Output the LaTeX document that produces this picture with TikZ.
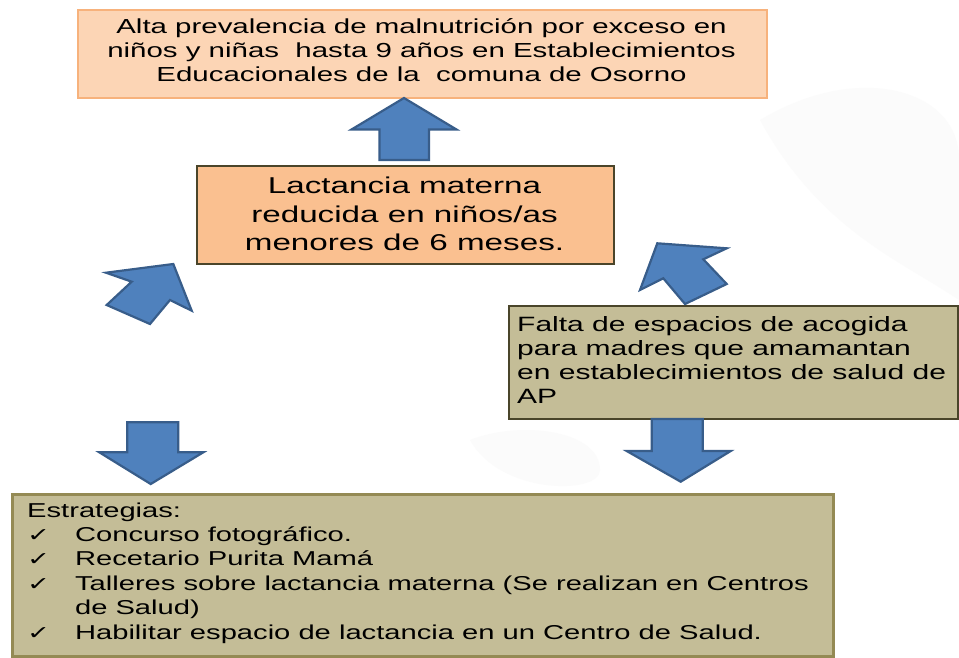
\documentclass[tikz,border=0pt]{standalone}
\usepackage{fontspec}
\setmainfont{Liberation Sans}
\newfontfamily\symfont{DejaVu Sans}
\usepackage{graphicx}
\definecolor{topfill}{HTML}{FCD5B5}
\definecolor{topdraw}{HTML}{F7B27C}
\definecolor{midfill}{HTML}{FAC090}
\definecolor{darkolive}{HTML}{4A452A}
\definecolor{khaki}{HTML}{C4BD97}
\definecolor{olive}{HTML}{948A54}
\definecolor{arrowfill}{HTML}{4F81BD}
\definecolor{arrowdraw}{HTML}{385D8A}
\newcommand{\chk}{\makebox[33pt][l]{{\symfont\fontsize{19}{19}\selectfont ✓}}}
\newcommand{\clines}[2]{\vbox{#1\lineskiplimit=-100pt\lineskip=0pt\halign{\hfil##\hfil\cr#2\crcr}}}
\newcommand{\llines}[2]{\vbox{#1\lineskiplimit=-100pt\lineskip=0pt\halign{##\hfil\cr#2\crcr}}}
\tikzset{
  box/.style={rectangle, inner sep=0pt, anchor=north west},
  blockarrow/.style={fill=arrowfill, draw=arrowdraw, line width=2.2pt, line join=miter},
  txt/.style={inner sep=0pt}
}
\begin{document}
\begin{tikzpicture}[x=1pt,y=-1pt]
\useasboundingbox[fill=white] (0,0) rectangle (959,657);
% faint background watermark
\fill[gray!3] (760,120) .. controls (860,60) and (960,90) .. (959,160) -- (959,300) .. controls (900,260) and (820,230) .. (760,120);
\fill[gray!3] (470,440) .. controls (520,420) and (600,430) .. (600,470) .. controls (600,495) and (500,495) .. (470,440);
% boxes
\node[box, fill=topfill, draw=topdraw, line width=1.5pt, minimum width=689pt, minimum height=88pt] (top) at (77,9) {};
\node[txt, anchor=base] (toptext) at (421.5,81.7) {\scalebox{1.45}[1]{\clines{\fontsize{20.3}{24.2}\selectfont}{Alta prevalencia de malnutrición por exceso en\cr niños y niñas\ \ hasta 9 años en Establecimientos\cr Educacionales de la\ \ comuna de Osorno}}};
\node[box, fill=midfill, draw=darkolive, line width=2.2pt, minimum width=417pt, minimum height=98pt] (mid) at (196,165) {};
\node[txt, anchor=base] (midtext) at (404.5,250.5) {\scalebox{1.45}[1]{\clines{\fontsize{22.9}{28.5}\selectfont}{Lactancia materna\cr reducida en niños/as\cr menores de 6 meses.}}};
\node[box, fill=khaki, draw=darkolive, line width=2pt, minimum width=449pt, minimum height=113pt] (falta) at (508,305) {};
\node[txt, anchor=base west] (faltatext) at (517,403) {\scalebox{1.45}[1]{\llines{\fontsize{20.7}{23.7}\selectfont}{Falta de espacios de acogida\cr para madres que amamantan\cr en establecimientos de salud de\cr AP}}};
\node[box, fill=khaki, draw=olive, line width=2.8pt, minimum width=821pt, minimum height=162pt] (strat) at (11,493) {};
\node[txt, anchor=base west] (strattext) at (27,639) {\scalebox{1.45}[1]{\llines{\fontsize{20.1}{24.4}\selectfont}{Estrategias:\cr \chk Concurso fotográfico.\cr \chk Recetario Purita Mamá\cr \chk Talleres sobre lactancia materna (Se realizan en Centros\cr \makebox[33pt]{}de Salud)\cr \chk Habilitar espacio de lactancia en un Centro de Salud.}}};
% block arrows
\draw[blockarrow] (404,98) -- (456.5,129.5) -- (429,129.5) -- (429,160) -- (379.5,160) -- (379.5,129.5) -- (351.5,129.5) -- cycle;
\draw[blockarrow] (173.3,264) -- (191.7,310.7) -- (170,300) -- (150,324) -- (106.7,305) -- (131.7,281.7) -- (106,272.7) -- cycle;
\draw[blockarrow] (657.3,243.3) -- (726.7,248.3) -- (703.3,259.3) -- (726.7,284) -- (685,304) -- (663.3,278.3) -- (640,290) -- cycle;
\draw[blockarrow] (127.3,422.3) -- (178.3,422.3) -- (178.3,452.3) -- (203.3,452.3) -- (150.7,484) -- (99.3,452.3) -- (127.3,452.3) -- cycle;
\draw[blockarrow] (651.7,419) -- (702.7,419) -- (702.7,451) -- (730.7,451) -- (680.7,481.7) -- (626.7,451) -- (651.7,451) -- cycle;
\end{tikzpicture}
\end{document}
